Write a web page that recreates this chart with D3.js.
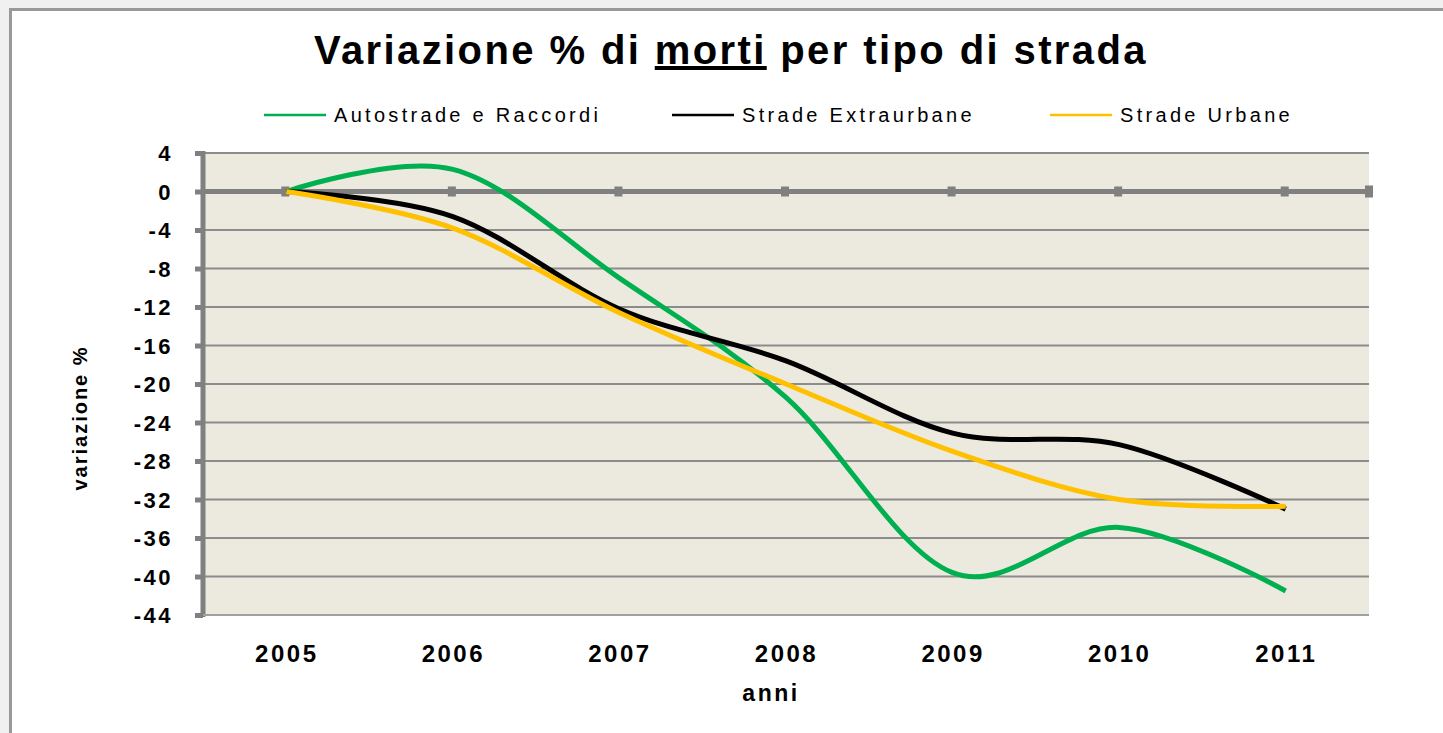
<!DOCTYPE html>
<html>
<head>
<meta charset="utf-8">
<script src="https://cdn.jsdelivr.net/npm/d3@7/dist/d3.min.js"></script>
<style>
  html, body { margin: 0; padding: 0; background: #f0f0f0; }
  svg { display: block; }
  text { font-family: "Liberation Sans", Arial, sans-serif; }
</style>
</head>
<body>
<svg id="chart" width="1443" height="733"></svg>
<script>
const years = ["2005", "2006", "2007", "2008", "2009", "2010", "2011"];
const autostrade = [0, 2.3, -9.0, -21.4, -39.6, -34.9, -41.5];
const extraurbane = [0, -2.6, -12.2, -17.6, -25.1, -26.3, -33.0];
const urbane = [0, -3.8, -12.6, -20.0, -27.0, -32.0, -32.7];
const yTicks = [4, 0, -4, -8, -12, -16, -20, -24, -28, -32, -36, -40, -44];
const seriesNames = ["Autostrade e Raccordi", "Strade Extraurbane", "Strade Urbane"];
const seriesColors = ["#00b050", "#000000", "#ffc000"];

const series = [
  { name: seriesNames[0], color: seriesColors[0], values: autostrade },
  { name: seriesNames[1], color: seriesColors[1], values: extraurbane },
  { name: seriesNames[2], color: seriesColors[2], values: urbane }
];

const svg = d3.select("#chart");

// chart area (white) with grey border
svg.append("rect").attr("x", 0).attr("y", 0).attr("width", 1443).attr("height", 733).attr("fill", "#f0f0f0");
svg.append("rect").attr("x", 10.5).attr("y", 9.5).attr("width", 1450).attr("height", 740)
  .attr("fill", "#ffffff").attr("stroke", "#999999").attr("stroke-width", 3);

const plot = { left: 203, right: 1369, top: 153, bottom: 615 };

const x = d3.scalePoint().domain(years).range([plot.left, plot.right]).padding(0.5);
const y = d3.scaleLinear().domain([-44, 4]).range([plot.bottom, plot.top]);

// plot background
svg.append("rect")
  .attr("x", plot.left).attr("y", plot.top)
  .attr("width", plot.right - plot.left).attr("height", plot.bottom - plot.top)
  .attr("fill", "#ece9df");

// gridlines
svg.append("g").selectAll("line").data(yTicks.filter(d => d !== 0)).join("line")
  .attr("x1", plot.left).attr("x2", plot.right)
  .attr("y1", d => y(d)).attr("y2", d => y(d))
  .attr("stroke", "#8c8c8c").attr("stroke-width", 2);

// y axis
const yAxis = d3.axisLeft(y).tickValues(yTicks).tickSize(8).tickFormat(d => String(d));
const yg = svg.append("g").attr("transform", `translate(${plot.left},0)`).call(yAxis);
yg.select(".domain").remove();
yg.selectAll(".tick line").attr("stroke", "#808080").attr("stroke-width", 5);
yg.selectAll(".tick text").attr("font-size", 22).attr("font-weight", "bold")
  .attr("letter-spacing", 2.5)
  .attr("fill", "#000").attr("x", -30).attr("dy", "0.35em");
svg.append("line").attr("x1", plot.left).attr("x2", plot.left)
  .attr("y1", plot.top - 2).attr("y2", plot.bottom + 2)
  .attr("stroke", "#808080").attr("stroke-width", 5);

// x axis (category) drawn at zero
const xg = svg.append("g").attr("transform", `translate(0,${y(0)})`);
xg.append("line").attr("x1", plot.left).attr("x2", plot.right + 4)
  .attr("stroke", "#808080").attr("stroke-width", 5);
xg.selectAll("rect.tk").data(years).join("rect").attr("class", "tk")
  .attr("x", d => x(d) - 5).attr("y", -5).attr("width", 8).attr("height", 10)
  .attr("fill", "#808080");
xg.append("rect").attr("x", plot.right - 4).attr("y", -6).attr("width", 8).attr("height", 12).attr("fill", "#808080");

// bottom border of plot
svg.append("line").attr("x1", plot.left).attr("x2", plot.right)
  .attr("y1", plot.bottom).attr("y2", plot.bottom)
  .attr("stroke", "#a0a0a0").attr("stroke-width", 2);

// x labels
const xAxis = d3.axisBottom(x).tickSize(0);
const xl = svg.append("g").attr("transform", `translate(0,${plot.bottom})`).call(xAxis);
xl.select(".domain").remove();
xl.selectAll(".tick text").attr("font-size", 24).attr("font-weight", "bold")
  .attr("letter-spacing", 2.5)
  .attr("fill", "#000").attr("y", 39).attr("dy", "0.35em");

// lines
const line = d3.line()
  .x((d, i) => x(years[i]))
  .y(d => y(d))
  .curve(d3.curveCardinal.tension(0));

svg.append("g").selectAll("path").data(series).join("path")
  .attr("d", d => line(d.values))
  .attr("fill", "none")
  .attr("stroke", d => d.color)
  .attr("stroke-width", 5)
  .attr("stroke-linejoin", "round")
  .attr("stroke-linecap", "butt");

// title
const title = svg.append("text").attr("x", 731).attr("y", 64)
  .attr("text-anchor", "middle").attr("font-size", 40).attr("font-weight", "bold")
  .attr("letter-spacing", 2.4).attr("fill", "#000");
title.append("tspan").text("Variazione % di ");
title.append("tspan").attr("text-decoration", "underline").text("morti");
title.append("tspan").text(" per tipo di strada");

// legend
const legendX = [264, 672, 1050];
const lg = svg.append("g").selectAll("g").data(series).join("g")
  .attr("transform", (d, i) => `translate(${legendX[i]},115)`);
lg.append("line").attr("x1", 0).attr("x2", 62).attr("y1", 0).attr("y2", 0)
  .attr("stroke", d => d.color).attr("stroke-width", 2.5);
lg.append("text").attr("x", 70).attr("y", 0).attr("dy", "0.35em")
  .attr("font-size", 20).attr("letter-spacing", 3.3).attr("fill", "#000")
  .text(d => d.name);

// axis titles
svg.append("text").attr("x", 771).attr("y", 693).attr("dy", "0.35em")
  .attr("text-anchor", "middle").attr("font-size", 23).attr("font-weight", "bold")
  .attr("letter-spacing", 2.5).text("anni");
svg.append("text").attr("transform", "translate(80,418) rotate(-90)").attr("dy", "0.35em")
  .attr("text-anchor", "middle").attr("font-size", 20).attr("font-weight", "bold")
  .attr("letter-spacing", 2).text("variazione %");
</script>
</body>
</html>
